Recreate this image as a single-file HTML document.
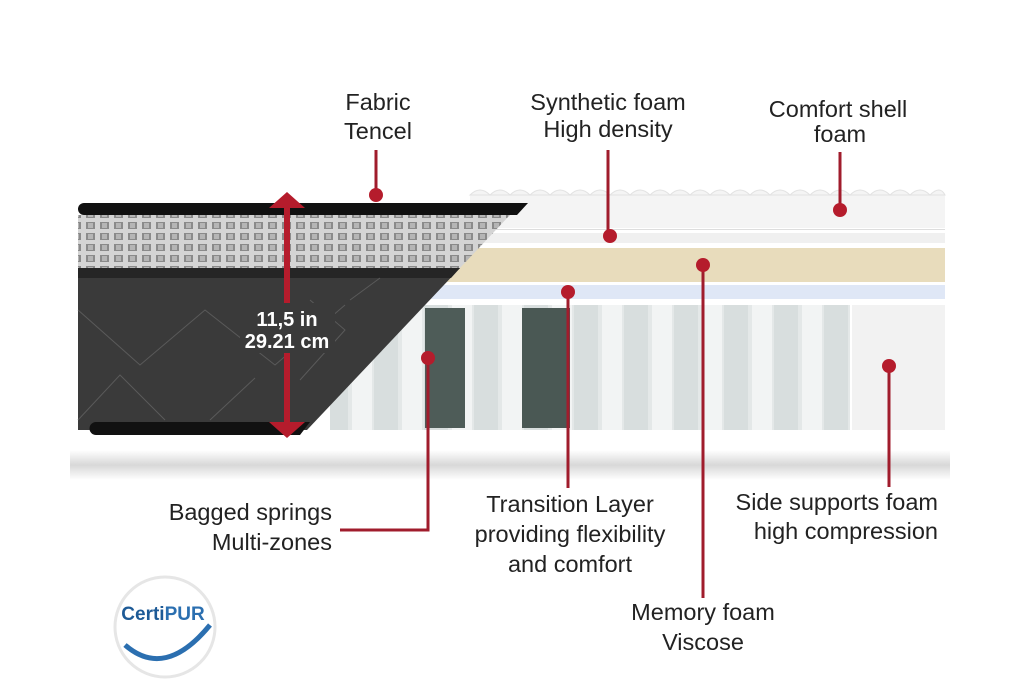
<!DOCTYPE html>
<html><head><meta charset="utf-8"><style>
html,body{margin:0;padding:0;background:#fff;}
svg{display:block;}
text{font-family:"Liberation Sans",sans-serif;fill:#222;font-size:23.5px;}
</style></head><body>
<svg width="1024" height="683" viewBox="0 0 1024 683">
<defs>
<linearGradient id="sh" x1="0" y1="0" x2="0" y2="1"><stop offset="0" stop-color="#fff"/><stop offset=".5" stop-color="#d8d8d8"/><stop offset="1" stop-color="#fff"/></linearGradient>
<pattern id="q" width="14" height="11" patternUnits="userSpaceOnUse"><rect width="14" height="11" fill="#d4d4d4"/><rect x="2" y="2" width="9" height="7" fill="#8a8a8a"/><rect x="4" y="3" width="5" height="5" fill="#b5b5b5"/></pattern>
<pattern id="sp" width="50" height="125" patternUnits="userSpaceOnUse"><rect width="50" height="125" fill="#e4e8e8"/><rect x="2" y="0" width="20" height="125" fill="#f2f4f4"/><rect x="24" y="0" width="24" height="125" fill="#d8dede"/></pattern>
</defs>
<rect x="70" y="450" width="880" height="30" fill="url(#sh)"/>
<!-- right foam layers -->
<rect x="470" y="195" width="475" height="33" fill="#f4f4f4"/>
<path d="M470 195 q10 -10 20 0 q10 -10 20 0 q10 -10 20 0 q10 -10 20 0 q10 -10 20 0 q10 -10 20 0 q10 -10 20 0 q10 -10 20 0 q10 -10 20 0 q10 -10 20 0 q10 -10 20 0 q10 -10 20 0 q10 -10 20 0 q10 -10 20 0 q10 -10 20 0 q10 -10 20 0 q10 -10 20 0 q10 -10 20 0 q10 -10 20 0 q10 -10 20 0 q10 -10 20 0 q10 -10 20 0 q10 -10 20 0 q10 -10 15 0 Z" fill="#f4f4f4" stroke="#e2e2e2"/>
<rect x="470" y="229" width="475" height="1" fill="#ddd"/>
<rect x="460" y="233" width="485" height="10" fill="#f0f0f0"/>
<rect x="440" y="248" width="505" height="34" fill="#e8dcbc"/>
<rect x="400" y="285" width="545" height="14" fill="#dfe7f6"/>
<rect x="330" y="305" width="520" height="125" fill="url(#sp)"/>
<rect x="425" y="308" width="40" height="120" fill="#4e5c58"/>
<rect x="522" y="308" width="48" height="120" fill="#4a5854"/>
<rect x="852" y="305" width="93" height="125" fill="#f2f2f2"/>
<!-- left covered part -->
<path d="M78 268 L460 268 L307 430 L78 430 Z" fill="#3a3a3a"/>
<path d="M78 215 L510 215 L460 268 L78 268 Z" fill="url(#q)"/>
<path d="M78 268 L460 268 L451 278 L78 278 Z" fill="#252525"/>
<g stroke="#5a5a5a" stroke-width="1" fill="none"><path d="M78 310 L140 365 L205 310 L275 365 L345 305 M78 420 L120 375 L165 420 M210 420 L255 378 M300 380 L345 330 L310 300 M350 300 L380 278"/></g>
<path d="M84 203 L528 203 L517 215 L84 215 A6 6 0 0 1 84 203 Z" fill="#111"/>
<path d="M96 422 L310 422 L300 435 L96 435 A6.5 6.5 0 0 1 96 422 Z" fill="#111"/>
<!-- arrow -->
<rect x="284" y="205" width="6" height="220" fill="#b51c2c"/>
<polygon points="287,192 269,208 305,208" fill="#b51c2c"/>
<polygon points="287,438 269,422 305,422" fill="#b51c2c"/>
<rect x="240" y="303" width="95" height="50" fill="#3a3a3a"/>
<text x="287" y="326" text-anchor="middle" style="fill:#fff;font-weight:bold;font-size:20px">11,5 in</text>
<text x="287" y="348" text-anchor="middle" style="fill:#fff;font-weight:bold;font-size:20px">29.21 cm</text>
<!-- callouts -->
<g stroke="#a01c2c" stroke-width="3" fill="none">
<path d="M376 150 V195"/><path d="M608 150 V236"/><path d="M840 152 V210"/>
<path d="M703 265 V598"/><path d="M568 292 V488"/>
<path d="M428 358 V530 H340"/><path d="M889 366 V487"/>
</g>
<g fill="#b51c2c">
<circle cx="376" cy="195" r="7"/><circle cx="610" cy="236" r="7"/><circle cx="840" cy="210" r="7"/>
<circle cx="703" cy="265" r="7"/><circle cx="568" cy="292" r="7"/><circle cx="428" cy="358" r="7"/><circle cx="889" cy="366" r="7"/>
</g>
<g text-anchor="middle">
<text x="378" y="110">Fabric</text><text x="378" y="139">Tencel</text>
<text x="608" y="110">Synthetic foam</text><text x="608" y="137">High density</text>
<text x="838" y="117">Comfort shell</text><text x="840" y="142">foam</text>
<text x="570" y="512">Transition Layer</text><text x="570" y="542">providing flexibility</text><text x="570" y="572">and comfort</text>
<text x="703" y="620">Memory foam</text><text x="703" y="650">Viscose</text>
</g>
<g text-anchor="end">
<text x="332" y="520">Bagged springs</text><text x="332" y="550">Multi-zones</text>
<text x="938" y="510">Side supports foam</text><text x="938" y="539">high compression</text>
</g>
<!-- CertiPUR -->
<circle cx="165" cy="627" r="50" fill="#fff" stroke="#e6e6e6" stroke-width="3"/>
<path d="M125 645 Q165 680 210 625" stroke="#2b6fb0" stroke-width="5" fill="none"/>
<text x="163" y="620" text-anchor="middle" style="font-size:19px;font-weight:bold;fill:#1d5a96">Certi<tspan style="fill:#2b6fb0">PUR</tspan></text>
</svg>
</body></html>
